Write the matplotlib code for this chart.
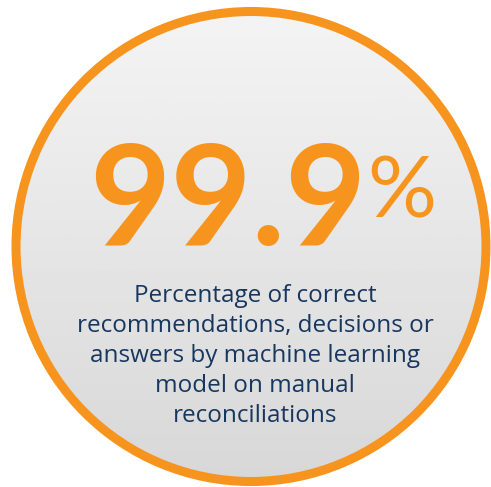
import numpy as np
import matplotlib
matplotlib.use("Agg")
import matplotlib.pyplot as plt
from matplotlib.patches import Circle

# content
value_text = "99.9"
unit_text = "%"
caption_lines = [
    "Percentage of correct",
    "recommendations, decisions or",
    "answers by machine learning",
    "model on manual",
    "reconciliations",
]

orange = "#F7941E"
navy = "#17375E"

W, H = 491, 487
fig = plt.figure(figsize=(W / 100, H / 100), dpi=100)
ax = fig.add_axes([0, 0, 1, 1])
ax.set_xlim(0, W)
ax.set_ylim(H, 0)
ax.axis("off")

cx, cy, r = 251, 246.5, 235

# grey gradient fill, clipped to the circle
grad = np.linspace(0.955, 0.845, 256)[:, None] * np.ones((1, 2))
img = ax.imshow(grad, cmap="gray", vmin=0, vmax=1, aspect="auto",
                extent=[cx - r, cx + r, cy + r, cy - r], zorder=1)
clip = Circle((cx, cy), r, transform=ax.transData)
img.set_clip_path(clip)

ring = Circle((cx, cy), r, fill=False, edgecolor=orange, linewidth=6.5, zorder=3)
ax.add_patch(ring)

# big number
ax.text(367, 245, value_text, color=orange, fontsize=101, fontweight="bold",
        family="Lato", ha="right", va="baseline", zorder=4)
ax.text(367, 217, unit_text, color=orange, fontsize=62, fontweight="normal",
        family="Lato", ha="left", va="baseline", zorder=4)

# caption
for i, line in enumerate(caption_lines):
    ax.text(255, 302 + 30 * i, line, color=navy, fontsize=17.5,
            family="Open Sans", ha="center", va="baseline", zorder=4)

fig.savefig("out.png", dpi=100)
